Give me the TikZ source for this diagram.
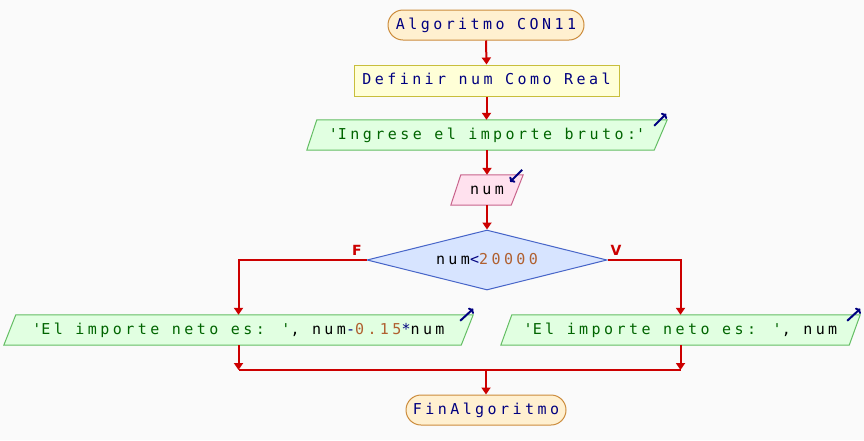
\documentclass[tikz,border=0pt]{standalone}
\usepackage{fontspec}
\newfontfamily\pmono[LetterSpace=23]{DejaVu Sans Mono}
\newfontfamily\plab{DejaVu Sans}
\usetikzlibrary{shapes.geometric,arrows.meta,backgrounds,calc}
\definecolor{bgc}{RGB}{250,250,250}
\definecolor{flow}{RGB}{204,0,0}
\definecolor{kw}{RGB}{0,0,128}
\definecolor{strc}{RGB}{0,100,0}
\definecolor{numc}{RGB}{176,96,48}
\definecolor{termf}{RGB}{255,240,208}
\definecolor{termd}{RGB}{204,140,60}
\definecolor{deff}{RGB}{255,255,215}
\definecolor{defd}{RGB}{200,190,60}
\definecolor{outf}{RGB}{225,255,225}
\definecolor{outd}{RGB}{100,190,100}
\definecolor{inf}{RGB}{255,225,238}
\definecolor{ind}{RGB}{200,100,140}
\definecolor{diaf}{RGB}{215,228,255}
\definecolor{diad}{RGB}{70,100,200}
\newcommand\kwc[1]{{\color{kw}#1}}
\newcommand\stc[1]{{\color{strc}#1}}
\newcommand\nmc[1]{{\color{numc}#1}}
\newcommand\qq{\textquotesingle}
\begin{document}
\begin{tikzpicture}[x=1pt,y=-1pt,
  font=\pmono\fontsize{15}{17}\selectfont,
  every node/.style={inner sep=0pt, text height=10.5pt, text depth=2.5pt},
  term/.style={rectangle, rounded corners=15pt, draw=termd, fill=termf, line width=1pt, minimum height=30pt},
  defbox/.style={rectangle, draw=defd, fill=deff, line width=1pt, minimum height=31pt},
  para/.style={rectangle, minimum height=30pt},
  outshape/.style={draw=outd, fill=outf, line width=1pt},
  inshape/.style={draw=ind, fill=inf, line width=1pt},
  cond/.style={diamond, aspect=4, draw=diad, fill=diaf, line width=1pt, minimum width=240pt, minimum height=60pt},
  flowline/.style={draw=flow, line width=2pt},
  flowarr/.style={flowline, -{Triangle[length=7pt,width=9pt]}},
  icon/.style={draw=kw, line width=2pt, -{To[length=4pt,width=8pt]}},
  lbl/.style={font=\plab\bfseries\fontsize{14}{16}\selectfont, text=flow, text height=10.5pt, text depth=0pt}
]
\useasboundingbox (0,0) rectangle (864,440);

\node[term, minimum width=196pt] (start) at (486,25) {\kwc{Algoritmo CON11}};
\node[defbox, minimum width=265pt] (def) at (486.5,80.5) {\kwc{Definir num Como Real}};
\node[para, minimum width=360pt] (out1) at (487,135) {\stc{\qq Ingrese el importe bruto:\qq}};
\node[para, minimum width=72pt] (in) at (487,190) {num};
\node[cond] (dec) at (487,260) {num\kwc{<}\nmc{20000}};
\node[para, minimum width=469pt] (outL) at (238.5,330) {\stc{\qq El importe neto es: \qq}, num\kwc{-}\nmc{0.15}\kwc{*}num};
\node[para, minimum width=359pt] (outR) at (680.5,330) {\stc{\qq El importe neto es: \qq}, num};
\coordinate (join) at (486,370);
\node[term, minimum width=160pt] (end) at (486,410) {\kwc{FinAlgoritmo}};

\node[lbl, anchor=south] (lf) at (357,256) {F};
\node[lbl, anchor=south] (lv) at (616,256) {V};

\begin{scope}[on background layer]
  \fill[bgc] (0,0) rectangle (864,440);
  \draw[outshape] ($(out1.north west)+(10,0)$) -- (out1.north east) -- ($(out1.south east)+(-13,0)$) -- (out1.south west) -- cycle;
  \draw[inshape] ($(in.north west)+(10,0)$) -- (in.north east) -- ($(in.south east)+(-12,0)$) -- (in.south west) -- cycle;
  \draw[outshape] ($(outL.north west)+(12,0)$) -- (outL.north east) -- ($(outL.south east)+(-12,0)$) -- (outL.south west) -- cycle;
  \draw[outshape] ($(outR.north west)+(11,0)$) -- (outR.north east) -- ($(outR.south east)+(-11,0)$) -- (outR.south west) -- cycle;
\end{scope}

\draw[icon] ($(out1.north east)+(-13,6)$) -- ($(out1.north east)+(-1,-6)$);
\draw[icon] ($(in.north east)+(-1,-5)$) -- ($(in.north east)+(-13,7)$);
\draw[icon] ($(outL.north east)+(-13,6)$) -- ($(outL.north east)+(0,-6)$);
\draw[icon] ($(outR.north east)+(-13,6)$) -- ($(outR.north east)+(0,-6)$);

\draw[flowarr] (start.south) -- (def.north);
\draw[flowarr] (def.south) -- (def.south |- out1.north);
\draw[flowarr] (out1.south) -- (out1.south |- in.north);
\draw[flowarr] (in.south) -- (in.south |- dec.north);
\draw[flowarr] (dec.west) -| (outL.north);
\draw[flowarr] (dec.east) -| (outR.north);
\draw[flowarr] (outL.south) -- (outL.south |- join);
\draw[flowarr] (outR.south) -- (outR.south |- join);
\draw[flowline] (outL.south |- join) -- (outR.south |- join);
\draw[flowarr] (join) -- (end.north);
\end{tikzpicture}
\end{document}
